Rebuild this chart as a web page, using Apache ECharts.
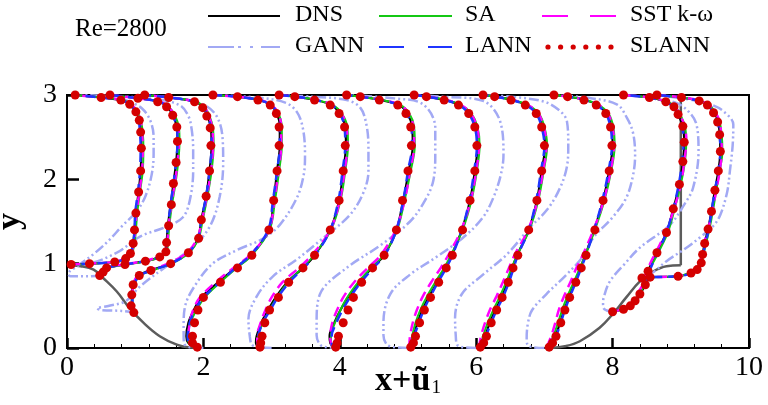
<!DOCTYPE html>
<html>
<head>
<meta charset="utf-8">
<script src="https://cdn.jsdelivr.net/npm/echarts@6/dist/echarts.min.js"></script>
<style>
  html, body { margin: 0; background: #fff; }
  #chart { width: 768px; height: 405px; }
</style>
</head>
<body>
<div id="chart"></div>
<script>
// hill walls
const hillLeft = [[0, 0.98], [0.2, 0.97], [0.39, 0.93], [0.53, 0.83], [0.73, 0.67], [0.92, 0.47], [1.12, 0.3], [1.36, 0.14], [1.61, 0.04], [1.8, 0.005], [1.95, 0]]
const hillRight = [[7.1, 0], [7.3, 0.02], [7.52, 0.08], [7.81, 0.24], [8.0, 0.4], [8.2, 0.6], [8.4, 0.79], [8.6, 0.91], [8.79, 0.97], [9.0, 0.98]]
const outlet = [[9.0, 0.98], [9.0, 3.0]]

// y levels of each station (x = 0, 0.5, 1, 2 ... 7, 8, 8.5)
const y0 = [0.99, 1.0, 1.02, 1.06, 1.12, 1.24, 1.4, 1.6, 1.85, 2.1, 2.37, 2.56, 2.7, 2.8, 2.89, 2.94, 2.97, 3.0]
const y05 = [0.86, 0.9, 0.95, 0.99, 1.03, 1.08, 1.14, 1.25, 1.45, 1.7, 1.95, 2.2, 2.45, 2.62, 2.76, 2.86, 2.92, 2.96, 3.0]
const y1 = [0.42, 0.5, 0.63, 0.75, 0.86, 0.92, 1.0, 1.13, 1.3, 1.52, 1.8, 2.1, 2.4, 2.61, 2.75, 2.85, 2.92, 2.97, 3.0]
const yFlat = [0.01, 0.06, 0.14, 0.3, 0.45, 0.6, 0.78, 0.95, 1.1, 1.4, 1.75, 2.1, 2.4, 2.62, 2.78, 2.88, 2.94, 2.98, 3.0]
const y8 = [0.43, 0.46, 0.5, 0.56, 0.64, 0.75, 0.91, 1.13, 1.37, 1.65, 1.94, 2.21, 2.44, 2.63, 2.77, 2.86, 2.92, 2.97, 3.0]
const y85 = [0.83, 0.84, 0.85, 0.89, 0.93, 1.01, 1.11, 1.24, 1.41, 1.62, 1.87, 2.1, 2.33, 2.53, 2.68, 2.79, 2.88, 2.93, 2.97, 3.0]
const profileY = [y0, y05, y1, yFlat, yFlat, yFlat, yFlat, yFlat, yFlat, y8, y85]

// x + u1 at those levels
const DNS = [
  [0.05, 0.33, 0.7, 0.86, 0.93, 0.97, 0.99, 1.01, 1.05, 1.08, 1.09, 1.08, 1.06, 1.01, 0.92, 0.79, 0.5, 0.12],
  [0.49, 0.52, 0.58, 0.85, 1.15, 1.36, 1.45, 1.46, 1.48, 1.52, 1.56, 1.6, 1.62, 1.61, 1.55, 1.47, 1.35, 1.05, 0.63],
  [1.0, 0.95, 0.95, 0.97, 1.05, 1.22, 1.51, 1.78, 1.92, 1.97, 2.04, 2.09, 2.12, 2.11, 2.06, 2.0, 1.88, 1.5, 1.14],
  [1.9, 1.78, 1.75, 1.78, 1.86, 1.97, 2.22, 2.47, 2.7, 2.96, 3.03, 3.08, 3.12, 3.12, 3.08, 2.99, 2.82, 2.5, 2.14],
  [2.8, 2.77, 2.78, 2.85, 2.95, 3.06, 3.23, 3.46, 3.63, 3.86, 3.99, 4.05, 4.09, 4.08, 4.0, 3.88, 3.65, 3.35, 3.11],
  [3.9, 3.86, 3.85, 3.92, 4.01, 4.12, 4.29, 4.47, 4.65, 4.83, 4.93, 5.01, 5.07, 5.06, 4.99, 4.87, 4.6, 4.3, 4.1],
  [5.02, 5.05, 5.08, 5.14, 5.21, 5.3, 5.43, 5.55, 5.64, 5.79, 5.91, 5.98, 6.02, 5.99, 5.9, 5.76, 5.55, 5.28, 5.09],
  [6.04, 6.09, 6.13, 6.2, 6.28, 6.37, 6.46, 6.53, 6.6, 6.77, 6.89, 6.96, 7.01, 6.97, 6.89, 6.74, 6.53, 6.28, 6.1],
  [7.05, 7.1, 7.16, 7.23, 7.29, 7.36, 7.45, 7.53, 7.6, 7.73, 7.86, 7.95, 8.0, 7.98, 7.91, 7.78, 7.6, 7.35, 7.14],
  [7.99, 8.16, 8.26, 8.33, 8.4, 8.48, 8.52, 8.65, 8.79, 8.89, 8.98, 9.03, 9.05, 9.03, 8.96, 8.9, 8.78, 8.54, 8.16],
  [8.42, 8.54, 8.96, 9.15, 9.24, 9.3, 9.32, 9.35, 9.4, 9.45, 9.5, 9.55, 9.58, 9.57, 9.55, 9.49, 9.4, 9.28, 9.01, 8.65]
]
const SA = [
  [0.05, 0.33, 0.72, 0.88, 0.95, 0.99, 1.01, 1.03, 1.07, 1.11, 1.12, 1.11, 1.08, 1.03, 0.94, 0.8, 0.5, 0.12],
  [0.49, 0.52, 0.6, 0.88, 1.17, 1.37, 1.46, 1.48, 1.5, 1.54, 1.59, 1.63, 1.65, 1.64, 1.58, 1.49, 1.36, 1.05, 0.63],
  [1.0, 0.96, 0.96, 0.98, 1.07, 1.25, 1.53, 1.79, 1.93, 1.99, 2.06, 2.12, 2.15, 2.14, 2.09, 2.02, 1.89, 1.5, 1.14],
  [1.9, 1.79, 1.77, 1.81, 1.9, 2.02, 2.25, 2.49, 2.71, 2.97, 3.05, 3.11, 3.15, 3.15, 3.1, 3.0, 2.83, 2.5, 2.14],
  [2.81, 2.79, 2.8, 2.87, 2.97, 3.08, 3.24, 3.45, 3.62, 3.87, 4.01, 4.08, 4.12, 4.11, 4.03, 3.9, 3.66, 3.35, 3.11],
  [3.9, 3.87, 3.87, 3.93, 4.01, 4.11, 4.27, 4.46, 4.64, 4.84, 4.95, 5.04, 5.1, 5.09, 5.02, 4.89, 4.62, 4.3, 4.1],
  [5.02, 5.04, 5.06, 5.11, 5.18, 5.27, 5.4, 5.53, 5.63, 5.8, 5.93, 6.01, 6.05, 6.02, 5.93, 5.78, 5.56, 5.28, 5.09],
  [6.03, 6.07, 6.1, 6.17, 6.25, 6.34, 6.44, 6.52, 6.6, 6.78, 6.91, 6.99, 7.04, 7.0, 6.92, 6.76, 6.54, 6.28, 6.1],
  [7.04, 7.08, 7.13, 7.2, 7.26, 7.33, 7.43, 7.52, 7.6, 7.74, 7.88, 7.98, 8.03, 8.01, 7.94, 7.8, 7.61, 7.35, 7.14],
  [7.99, 8.15, 8.25, 8.32, 8.39, 8.47, 8.53, 8.67, 8.81, 8.91, 9.0, 9.06, 9.08, 9.06, 8.99, 8.92, 8.8, 8.55, 8.16],
  [8.42, 8.54, 8.95, 9.14, 9.23, 9.3, 9.33, 9.37, 9.42, 9.47, 9.52, 9.57, 9.61, 9.6, 9.57, 9.51, 9.42, 9.29, 9.02, 8.65]
]
const SST = [
  [0.05, 0.3, 0.68, 0.85, 0.93, 0.98, 1.0, 1.02, 1.06, 1.1, 1.11, 1.1, 1.08, 1.03, 0.94, 0.8, 0.5, 0.12],
  [0.49, 0.51, 0.56, 0.82, 1.12, 1.34, 1.44, 1.47, 1.49, 1.53, 1.58, 1.62, 1.64, 1.63, 1.57, 1.49, 1.36, 1.05, 0.63],
  [1.0, 0.96, 0.96, 0.97, 1.04, 1.2, 1.48, 1.76, 1.91, 1.98, 2.05, 2.11, 2.14, 2.13, 2.08, 2.02, 1.89, 1.5, 1.14],
  [1.9, 1.8, 1.78, 1.8, 1.85, 1.95, 2.18, 2.44, 2.68, 2.96, 3.04, 3.1, 3.14, 3.14, 3.1, 3.0, 2.83, 2.5, 2.14],
  [2.81, 2.79, 2.79, 2.84, 2.91, 3.0, 3.16, 3.4, 3.59, 3.86, 4.0, 4.07, 4.11, 4.1, 4.02, 3.89, 3.66, 3.35, 3.11],
  [3.9, 3.87, 3.86, 3.89, 3.96, 4.05, 4.21, 4.41, 4.6, 4.82, 4.95, 5.03, 5.09, 5.08, 5.01, 4.89, 4.62, 4.3, 4.1],
  [5.01, 5.02, 5.03, 5.07, 5.13, 5.21, 5.34, 5.48, 5.59, 5.78, 5.92, 6.0, 6.04, 6.01, 5.92, 5.78, 5.56, 5.28, 5.09],
  [6.02, 6.05, 6.07, 6.13, 6.2, 6.29, 6.39, 6.48, 6.56, 6.76, 6.9, 6.98, 7.03, 6.99, 6.91, 6.76, 6.54, 6.28, 6.1],
  [7.03, 7.06, 7.1, 7.16, 7.21, 7.28, 7.38, 7.47, 7.56, 7.72, 7.87, 7.97, 8.02, 8.0, 7.93, 7.8, 7.61, 7.35, 7.14],
  [7.99, 8.14, 8.23, 8.3, 8.36, 8.44, 8.5, 8.63, 8.78, 8.9, 9.0, 9.05, 9.08, 9.06, 8.98, 8.92, 8.8, 8.55, 8.16],
  [8.42, 8.54, 8.94, 9.13, 9.22, 9.28, 9.31, 9.34, 9.4, 9.46, 9.52, 9.57, 9.6, 9.59, 9.57, 9.51, 9.42, 9.29, 9.02, 8.65]
]
const LANN = [
  [0.05, 0.33, 0.7, 0.86, 0.93, 0.97, 0.99, 1.0, 1.04, 1.07, 1.08, 1.07, 1.05, 1.0, 0.92, 0.79, 0.5, 0.12],
  [0.49, 0.52, 0.58, 0.85, 1.14, 1.35, 1.44, 1.46, 1.48, 1.52, 1.56, 1.6, 1.62, 1.61, 1.55, 1.47, 1.35, 1.05, 0.63],
  [1.0, 0.96, 0.96, 0.98, 1.07, 1.24, 1.52, 1.78, 1.92, 1.97, 2.04, 2.09, 2.12, 2.11, 2.06, 2.0, 1.88, 1.5, 1.14],
  [1.9, 1.79, 1.77, 1.8, 1.88, 2.0, 2.24, 2.47, 2.69, 2.95, 3.02, 3.08, 3.12, 3.12, 3.08, 2.99, 2.82, 2.5, 2.14],
  [2.81, 2.79, 2.8, 2.87, 2.98, 3.09, 3.26, 3.47, 3.64, 3.86, 3.98, 4.04, 4.08, 4.07, 4.0, 3.88, 3.65, 3.35, 3.11],
  [3.91, 3.88, 3.88, 3.95, 4.04, 4.15, 4.31, 4.49, 4.66, 4.83, 4.93, 5.0, 5.06, 5.05, 4.98, 4.86, 4.6, 4.3, 4.1],
  [5.03, 5.06, 5.09, 5.16, 5.23, 5.32, 5.44, 5.56, 5.65, 5.79, 5.9, 5.97, 6.01, 5.98, 5.89, 5.75, 5.54, 5.28, 5.09],
  [6.05, 6.1, 6.14, 6.22, 6.3, 6.39, 6.48, 6.55, 6.61, 6.77, 6.88, 6.95, 7.0, 6.96, 6.88, 6.73, 6.52, 6.28, 6.1],
  [7.06, 7.11, 7.17, 7.24, 7.3, 7.37, 7.46, 7.54, 7.61, 7.73, 7.85, 7.94, 7.99, 7.97, 7.9, 7.77, 7.59, 7.35, 7.14],
  [7.99, 8.16, 8.27, 8.34, 8.41, 8.49, 8.54, 8.66, 8.79, 8.89, 8.97, 9.02, 9.04, 9.02, 8.95, 8.89, 8.77, 8.54, 8.16],
  [8.42, 8.55, 8.97, 9.16, 9.25, 9.31, 9.33, 9.36, 9.41, 9.45, 9.5, 9.55, 9.58, 9.57, 9.54, 9.48, 9.39, 9.27, 9.01, 8.65]
]
const SLANN = [
  [0.06, 0.33, 0.7, 0.86, 0.93, 0.97, 0.99, 1.01, 1.05, 1.08, 1.09, 1.08, 1.06, 1.01, 0.92, 0.79, 0.5, 0.12],
  [0.48, 0.53, 0.58, 0.85, 1.15, 1.36, 1.45, 1.46, 1.49, 1.53, 1.56, 1.6, 1.62, 1.61, 1.55, 1.46, 1.33, 1.04, 0.63],
  [0.98, 0.94, 0.95, 0.97, 1.06, 1.23, 1.52, 1.78, 1.93, 1.97, 2.04, 2.09, 2.11, 2.1, 2.05, 1.99, 1.87, 1.49, 1.14],
  [1.91, 1.84, 1.84, 1.87, 1.92, 2.0, 2.25, 2.5, 2.71, 2.96, 3.03, 3.08, 3.11, 3.11, 3.07, 2.98, 2.8, 2.5, 2.14],
  [2.83, 2.84, 2.86, 2.9, 2.97, 3.1, 3.25, 3.46, 3.63, 3.86, 3.99, 4.05, 4.08, 4.07, 3.99, 3.86, 3.63, 3.34, 3.11],
  [3.94, 3.96, 3.98, 4.05, 4.12, 4.2, 4.32, 4.48, 4.65, 4.83, 4.92, 5.0, 5.05, 5.04, 4.97, 4.85, 4.58, 4.3, 4.1],
  [5.04, 5.08, 5.11, 5.17, 5.24, 5.33, 5.45, 5.56, 5.65, 5.8, 5.91, 5.98, 6.01, 5.98, 5.89, 5.74, 5.53, 5.27, 5.09],
  [6.06, 6.11, 6.15, 6.22, 6.3, 6.38, 6.47, 6.54, 6.61, 6.77, 6.89, 6.96, 7.0, 6.96, 6.88, 6.72, 6.51, 6.27, 6.1],
  [7.07, 7.12, 7.17, 7.24, 7.3, 7.37, 7.46, 7.54, 7.61, 7.74, 7.86, 7.95, 7.99, 7.97, 7.9, 7.76, 7.58, 7.34, 7.14],
  [8.0, 8.16, 8.26, 8.33, 8.4, 8.48, 8.52, 8.65, 8.79, 8.89, 8.98, 9.03, 9.05, 9.03, 8.96, 8.9, 8.78, 8.54, 8.16],
  [8.43, 8.55, 8.96, 9.15, 9.24, 9.3, 9.32, 9.35, 9.4, 9.45, 9.5, 9.55, 9.58, 9.57, 9.54, 9.48, 9.39, 9.27, 9.01, 8.65]
]
// GANN wanders off, so it keeps its own [x+u1, y] points
const GANN = [
  [[0.05, 0.99], [0.3, 1.0], [0.73, 1.13], [1.07, 1.32], [1.46, 1.44], [1.7, 1.55], [1.8, 1.75], [1.85, 2.1], [1.85, 2.35], [1.83, 2.58], [1.78, 2.75], [1.65, 2.88], [1.3, 2.95], [0.6, 2.99], [0.12, 3.0]],
  [[0.5, 0.86], [0.3, 0.85], [0.05, 0.85], [0.02, 0.88], [0.15, 0.97], [0.4, 1.12], [0.62, 1.28], [0.8, 1.44], [1.02, 1.62], [1.15, 1.8], [1.24, 2.05], [1.27, 2.3], [1.27, 2.5], [1.22, 2.7], [1.1, 2.84], [0.92, 2.92], [0.63, 3.0]],
  [[1.0, 0.42], [0.8, 0.44], [0.5, 0.45], [0.44, 0.47], [0.62, 0.5], [0.87, 0.56], [1.07, 0.73], [1.46, 0.97], [1.85, 1.2], [2.1, 1.45], [2.24, 1.8], [2.29, 2.2], [2.28, 2.5], [2.2, 2.74], [2.02, 2.88], [1.7, 2.95], [1.14, 3.0]],
  [[2.0, 0.0], [1.8, 0.01], [1.72, 0.05], [1.71, 0.14], [1.71, 0.26], [1.73, 0.49], [1.9, 0.77], [2.15, 1.01], [2.49, 1.16], [2.88, 1.3], [3.12, 1.46], [3.37, 1.78], [3.47, 2.05], [3.49, 2.29], [3.46, 2.6], [3.37, 2.8], [3.2, 2.91], [2.8, 2.97], [2.14, 3.0]],
  [[3.0, 0.0], [2.8, 0.01], [2.71, 0.04], [2.68, 0.14], [2.66, 0.34], [2.78, 0.61], [3.02, 0.85], [3.37, 1.05], [3.75, 1.3], [4.15, 1.58], [4.35, 1.85], [4.42, 2.1], [4.42, 2.37], [4.39, 2.65], [4.3, 2.85], [4.1, 2.94], [3.6, 2.98], [3.11, 3.0]],
  [[4.0, 0.0], [3.8, 0.01], [3.71, 0.04], [3.66, 0.15], [3.66, 0.3], [3.71, 0.64], [4.1, 0.95], [4.6, 1.22], [5.03, 1.5], [5.25, 1.75], [5.37, 1.98], [5.4, 2.3], [5.4, 2.61], [5.22, 2.89], [4.8, 2.96], [4.1, 3.0]],
  [[5.0, 0.0], [4.8, 0.01], [4.69, 0.04], [4.64, 0.15], [4.64, 0.3], [4.74, 0.64], [5.03, 0.87], [5.4, 1.07], [5.81, 1.31], [6.1, 1.55], [6.25, 1.78], [6.36, 2.05], [6.4, 2.29], [6.35, 2.69], [6.1, 2.93], [5.5, 2.98], [5.09, 3.0]],
  [[6.0, 0.0], [5.8, 0.01], [5.72, 0.04], [5.7, 0.15], [5.69, 0.36], [5.79, 0.64], [6.1, 0.87], [6.45, 1.11], [6.79, 1.43], [7.05, 1.65], [7.23, 1.9], [7.33, 2.15], [7.35, 2.4], [7.33, 2.69], [7.23, 2.81], [7.0, 2.92], [6.5, 2.98], [6.1, 3.0]],
  [[7.0, 0.0], [6.82, 0.01], [6.75, 0.04], [6.74, 0.12], [6.76, 0.3], [6.82, 0.45], [7.03, 0.64], [7.3, 0.85], [7.55, 1.07], [7.72, 1.31], [8.0, 1.55], [8.2, 1.78], [8.3, 2.05], [8.33, 2.29], [8.3, 2.55], [8.21, 2.73], [8.06, 2.89], [7.6, 2.97], [7.14, 3.0]],
  [[8.0, 0.43], [7.88, 0.46], [7.86, 0.52], [7.87, 0.6], [7.96, 0.79], [8.18, 1.0], [8.4, 1.19], [8.84, 1.46], [9.05, 1.7], [9.18, 1.9], [9.26, 2.33], [9.23, 2.65], [9.13, 2.79], [8.95, 2.9], [8.6, 2.96], [8.16, 3.0]],
  [[8.5, 0.86], [8.6, 0.9], [8.79, 1.03], [9.05, 1.17], [9.28, 1.31], [9.48, 1.45], [9.58, 1.58], [9.68, 1.85], [9.72, 2.1], [9.76, 2.4], [9.77, 2.65], [9.62, 2.81], [9.43, 2.89], [9.1, 2.95], [8.65, 3.0]]
]

const serif = 'Liberation Serif'
const colors = { dns: '#000000', sa: '#14c814', sst: '#ff00ff', gann: '#a2a9f4', lann: '#1f35ff', slann: '#d40000' }

const chart = echarts.init(document.getElementById('chart'))

let series = []
series.push({ type: 'line', data: hillLeft, smooth: 0.4, symbol: 'none', lineStyle: { color: '#5c5c5c', width: 2.5 }, z: 1 })
series.push({ type: 'line', data: hillRight, smooth: 0.4, symbol: 'none', lineStyle: { color: '#5c5c5c', width: 2.5 }, z: 1 })
series.push({ type: 'line', data: outlet, symbol: 'none', lineStyle: { color: '#5c5c5c', width: 2.5 }, z: 1 })

for (let i = 0; i < profileY.length; i++) {
  const y = profileY[i]
  const pts = xs => xs.map((v, k) => [v, y[k]])
  series.push({ name: 'GANN', type: 'line', data: GANN[i], smooth: 0.35, symbol: 'none', z: 2,
    lineStyle: { color: colors.gann, width: 2.5, type: [10, 3, 2, 3, 2, 3] } })
  series.push({ name: 'DNS', type: 'line', data: pts(DNS[i]), smooth: 0.35, symbol: 'none', z: 3,
    lineStyle: { color: colors.dns, width: 2.2 } })
  series.push({ name: 'SA', type: 'line', data: pts(SA[i]), smooth: 0.35, symbol: 'none', z: 4,
    lineStyle: { color: colors.sa, width: 2 } })
  series.push({ name: 'SST k-ω', type: 'line', data: pts(SST[i]), smooth: 0.35, symbol: 'none', z: 5,
    lineStyle: { color: colors.sst, width: 2.5, type: [10, 6] } })
  series.push({ name: 'LANN', type: 'line', data: pts(LANN[i]), smooth: 0.35, symbol: 'none', z: 6,
    lineStyle: { color: colors.lann, width: 2.5, type: [10, 6], dashOffset: 5 } })
  series.push({ name: 'SLANN', type: 'scatter', data: pts(SLANN[i]), symbol: 'circle', symbolSize: 9, z: 7,
    itemStyle: { color: colors.slann, opacity: 1 } })
}

// legend drawn by hand: Tecplot-like samples
const legendText = (x, y, t) => ({ type: 'text', left: x, top: y - 13, style: { text: t, font: '24px ' + serif, fill: '#000' } })
const legendLine = (x1, x2, y, color, dash, w) => ({ type: 'line', shape: { x1: x1, y1: y, x2: x2, y2: y },
  style: { stroke: color, lineWidth: w || 2, lineDash: dash || null } })
let legend = [
  { type: 'text', left: 75, top: 17, style: { text: 'Re=2800', font: '25px ' + serif, fill: '#000' } },
  legendLine(208, 280, 16, colors.dns), legendText(295, 16, 'DNS'),
  legendLine(379, 452, 16, colors.sa), legendText(465, 16, 'SA'),
  legendLine(542, 616, 16, colors.sst, [26, 22]), legendText(630, 16, 'SST k-ω'),
  legendLine(208, 280, 47, colors.gann, [26, 4, 3, 9, 3, 8, 19]), legendText(295, 47, 'GANN'),
  legendLine(379, 452, 47, colors.lann, [25, 24]), legendText(465, 47, 'LANN'),
  legendText(630, 47, 'SLANN')
]
for (let k = 0; k < 6; k++) {
  legend.push({ type: 'circle', shape: { cx: 548 + k * 12.6, cy: 47, r: 2.6 }, style: { fill: colors.slann } })
}

const option = {
  animation: false,
  grid: { left: 67, right: 19, top: 95, bottom: 57, show: true, borderColor: '#000', borderWidth: 2,
    containLabel: false, outerBoundsMode: 'none' },
  xAxis: {
    type: 'value', min: 0, max: 10, interval: 2,
    name: '{a|x+ũ}{b|1}', nameLocation: 'middle', nameGap: 16, nameMoveOverlap: false,
    nameTextStyle: { rich: {
      a: { fontFamily: serif, fontSize: 34, fontWeight: 'bold', color: '#000' },
      b: { fontFamily: serif, fontSize: 19, color: '#000', verticalAlign: 'bottom', padding: [14, 0, 0, 1] }
    } },
    axisLine: { lineStyle: { color: '#000', width: 2 } },
    axisTick: { inside: true, length: 10, lineStyle: { width: 2.5, color: '#000' } },
    minorTick: { show: true, splitNumber: 5, length: 4, lineStyle: { color: '#000', width: 1 } },
    splitLine: { show: false },
    axisLabel: { fontFamily: serif, fontSize: 28, color: '#000', margin: 6 }
  },
  yAxis: {
    type: 'value', min: 0, max: 3, interval: 1,
    name: 'y', nameLocation: 'middle', nameGap: 40, nameMoveOverlap: false,
    nameTextStyle: { fontFamily: serif, fontSize: 34, fontWeight: 'bold', color: '#000' },
    axisLine: { lineStyle: { color: '#000', width: 2 } },
    axisTick: { inside: true, length: 12, lineStyle: { width: 2.5, color: '#000' } },
    splitLine: { show: false },
    axisLabel: { fontFamily: serif, fontSize: 28, color: '#000', margin: 10 }
  },
  graphic: legend,
  series: series
}

chart.setOption(option)
</script>
</body>
</html>
